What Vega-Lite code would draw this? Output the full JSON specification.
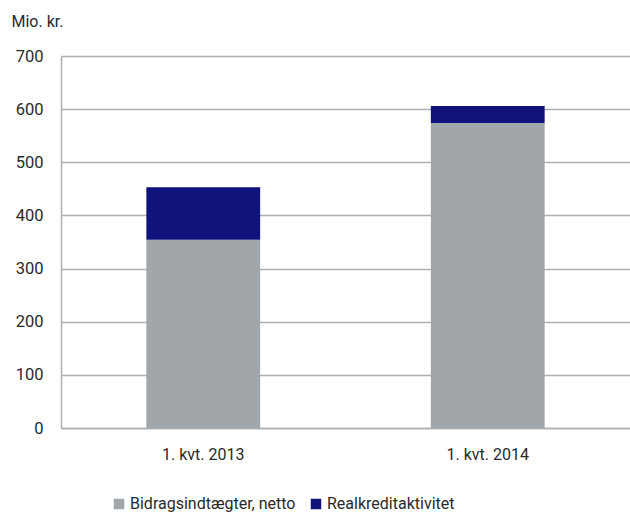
{
  "$schema": "https://vega.github.io/schema/vega-lite/v6.json",
  "width": 569,
  "height": 372,
  "autosize": {"type": "none"},
  "padding": {"left": 61, "top": 56, "right": 0, "bottom": 86},
  "background": "white",
  "config": {
    "view": {"stroke": null},
    "font": "Roboto, sans-serif",
    "axis": {"labelFont": "Roboto, sans-serif", "titleFont": "Roboto, sans-serif"},
    "legend": {"labelFont": "Roboto, sans-serif"}
  },
  "data": {
    "values": [
      {"period": "1. kvt. 2013", "series": "Bidragsindtægter, netto", "value": 354, "ord": 1},
      {"period": "1. kvt. 2013", "series": "Realkreditaktivitet", "value": 99, "ord": 2},
      {"period": "1. kvt. 2014", "series": "Bidragsindtægter, netto", "value": 574, "ord": 1},
      {"period": "1. kvt. 2014", "series": "Realkreditaktivitet", "value": 32, "ord": 2}
    ]
  },
  "mark": {"type": "bar"},
  "encoding": {
    "x": {
      "field": "period", "type": "nominal",
      "scale": {"paddingInner": 0.6, "paddingOuter": 0.3},
      "axis": {"title": null, "labelAngle": 0, "labelFontSize": 16, "labelColor": "#2a2a2a", "ticks": false, "domain": true, "domainColor": "#aab0b3", "domainWidth": 1.5, "labelPadding": 18}
    },
    "y": {
      "field": "value", "type": "quantitative", "stack": "zero",
      "scale": {"domain": [0, 700], "nice": false},
      "axis": {
        "values": [0, 100, 200, 300, 400, 500, 600, 700],
        "title": "Mio. kr.", "titleAngle": 0, "titleX": -50, "titleY": -35, "titleAlign": "left", "titleBaseline": "middle",
        "titleFontSize": 16, "titleFontWeight": "normal", "titleColor": "#2a2a2a",
        "labelFontSize": 16.5, "labelColor": "#2a2a2a", "labelPadding": 18,
        "ticks": false, "domain": true, "domainColor": "#aab0b3", "domainWidth": 1.5,
        "grid": true, "gridColor": "#aab0b3", "gridWidth": 1.5
      }
    },
    "color": {
      "field": "series", "type": "nominal",
      "scale": {"domain": ["Bidragsindtægter, netto", "Realkreditaktivitet"], "range": ["#a0a6a9", "#10137a"]},
      "legend": {
        "title": null, "orient": "none", "direction": "horizontal", "legendX": 50, "legendY": 440,
        "symbolType": "square", "symbolSize": 110, "symbolStrokeWidth": 0, "labelFontSize": 16, "labelColor": "#2a2a2a",
        "labelLimit": 400, "columnPadding": 12, "labelOffset": 3
      }
    },
    "order": {"field": "ord", "type": "quantitative"}
  }
}
